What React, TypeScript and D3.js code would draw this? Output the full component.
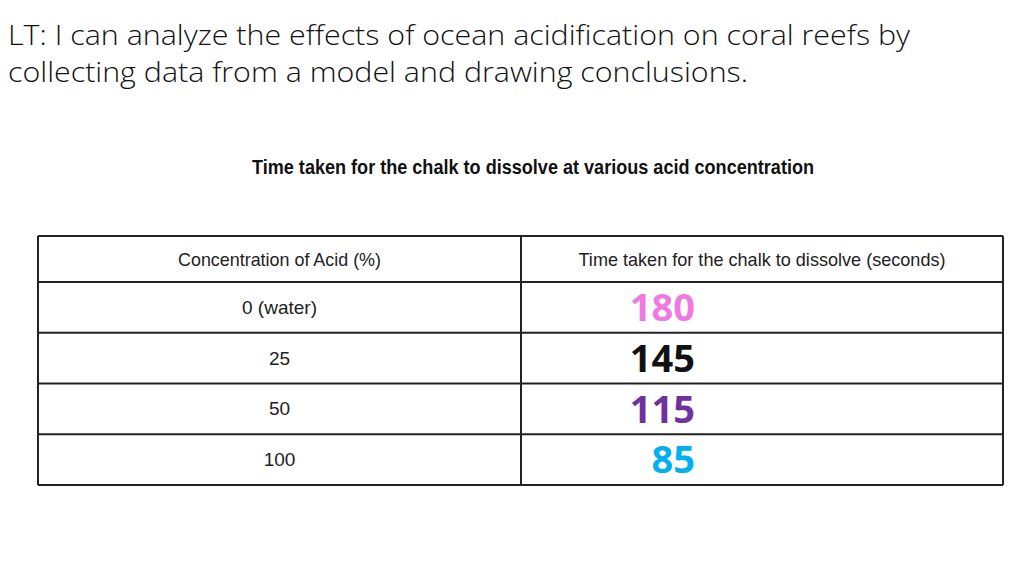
import React from 'react';
import * as d3 from 'd3';

const titleLines = [
  'LT: I can analyze the effects of ocean acidification on coral reefs by',
  'collecting data from a model and drawing conclusions.',
];
const tableTitle = 'Time taken for the chalk to dissolve at various acid concentration';
const headers = ['Concentration of Acid (%)', 'Time taken for the chalk to dissolve (seconds)'];
const concentrations = ['0 (water)', '25', '50', '100'];
const dissolveTimes = [180, 145, 115, 85];
const valueColors = ['#ef7ae2', '#111111', '#7030a0', '#00b0f0'];

const App = () => {
  const width = 1024;
  const height = 576;
  const table = { left: 38, right: 1003, top: 236, headerBottom: 282, bottom: 485 };
  const divider = 521;

  // rows below the header share the remaining height equally
  const yRow = d3
    .scaleBand<string>()
    .domain(concentrations)
    .range([table.headerBottom, table.bottom])
    .padding(0);

  const xCol = d3
    .scaleOrdinal<string, number>()
    .domain(headers)
    .range([(table.left + divider) / 2, (divider + table.right) / 2]);

  const lineY = [table.top, table.headerBottom, ...concentrations.slice(1).map((c) => yRow(c) as number), table.bottom];
  const headerMid = (table.top + table.headerBottom) / 2;
  const valueFont = 38;

  return (
    <svg
      width={width}
      height={height}
      style={{ position: 'absolute', left: 0, top: 0, background: '#fff' }}
    >
      {titleLines.map((t, i) => (
        <text
          key={t}
          x={8}
          y={45 + i * 37}
          fontFamily="'Open Sans', sans-serif"
          fontWeight={300}
          fontSize={28}
          fill="#111"
          textLength={i === 0 ? 902 : 740}
          lengthAdjust="spacingAndGlyphs"
        >
          {t}
        </text>
      ))}

      <text
        x={252}
        y={174}
        fontFamily="'Liberation Sans', Arial, sans-serif"
        fontWeight={700}
        fontSize={21}
        fill="#111"
        textLength={562}
        lengthAdjust="spacingAndGlyphs"
      >
        {tableTitle}
      </text>

      {/* table grid */}
      {lineY.map((y, i) => (
        <line key={i} x1={table.left} x2={table.right} y1={y} y2={y} stroke="#222" strokeWidth={2} />
      ))}
      {[table.left, divider, table.right].map((x, i) => (
        <line key={'v' + i} x1={x} x2={x} y1={table.top} y2={table.bottom} stroke="#222" strokeWidth={2} />
      ))}

      {headers.map((h, i) => (
        <text
          key={h}
          x={xCol(h)}
          y={headerMid + 6.5}
          textAnchor="middle"
          fontFamily="'Liberation Sans', Arial, sans-serif"
          fontSize={19}
          fill="#222"
          textLength={i === 0 ? 203 : 367}
          lengthAdjust="spacingAndGlyphs"
        >
          {h}
        </text>
      ))}

      {concentrations.map((c) => (
        <text
          key={c}
          x={xCol(headers[0])}
          y={(yRow(c) as number) + yRow.bandwidth() / 2 + 6.5}
          textAnchor="middle"
          fontFamily="'Liberation Sans', Arial, sans-serif"
          fontSize={19}
          fill="#222"
          transform={`scale(1,1)`}
        >
          {c}
        </text>
      ))}

      {dissolveTimes.map((v, i) => (
        <text
          key={v}
          x={695}
          y={(yRow(concentrations[i]) as number) + yRow.bandwidth() / 2 + valueFont * 0.36}
          textAnchor="end"
          fontFamily="'Open Sans', sans-serif"
          fontWeight={700}
          fontSize={valueFont}
          fill={valueColors[i]}
        >
          {v}
        </text>
      ))}
    </svg>
  );
};

export default App;
